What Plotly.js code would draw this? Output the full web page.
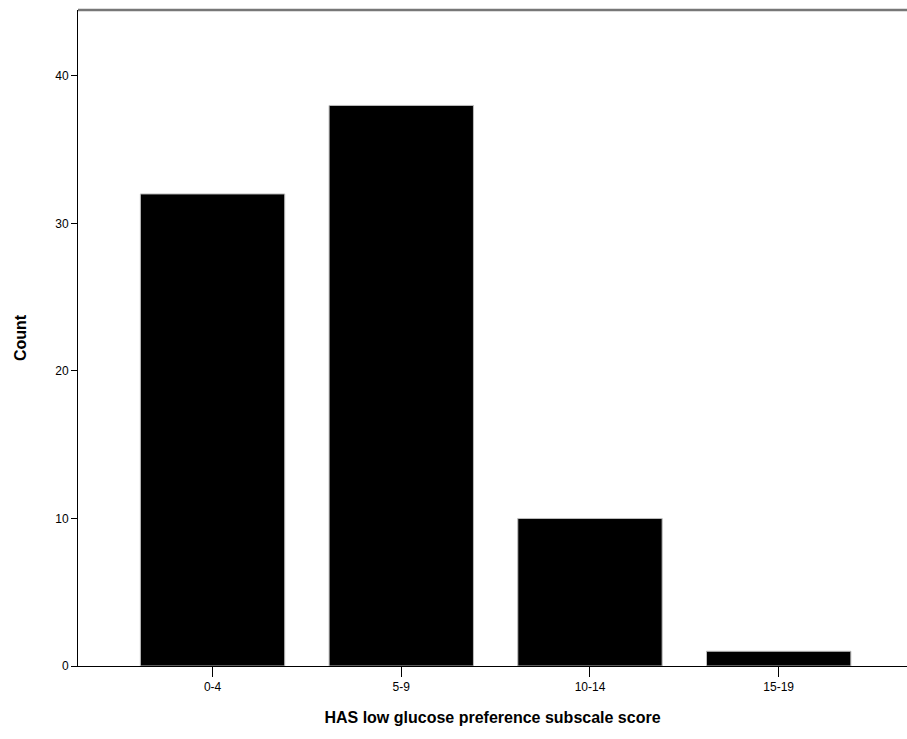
<!DOCTYPE html>
<html><head><meta charset="utf-8">
<script src="https://cdn.plot.ly/plotly-3.0.1.min.js"></script>
<style>html,body{margin:0;padding:0;background:#fff}#chart{width:907px;height:739px}</style>
</head><body><div id="chart"></div>
<script>
const categories = ["0-4", "5-9", "10-14", "15-19"];
const counts = [32, 38, 10, 1];
const yTicks = [0, 10, 20, 30, 40];

const trace = {
  type: 'bar', x: categories, y: counts,
  marker: {color: '#000000', line: {color: '#bdbdbd', width: 1}},
  hoverinfo: 'none'
};
const layout = {
  width: 907, height: 739,
  margin: {l: 78, r: 0, t: 10, b: 73},
  paper_bgcolor: '#fff', plot_bgcolor: '#fff',
  bargap: 0.235,
  showlegend: false,
  font: {family: 'Liberation Sans, Arial, sans-serif', color: '#000', size: 12},
  xaxis: {
    type: 'category', range: [-0.713, 3.68],
    showline: true, linecolor: '#000', linewidth: 1,
    ticks: 'outside', ticklen: 10, tickcolor: '#000', tickwidth: 1,
    showgrid: false, zeroline: false,
    tickfont: {size: 12, family: 'Liberation Sans, Arial, sans-serif'},
    title: {text: 'HAS low glucose preference subscale score', standoff: 18,
            font: {size: 16, family: 'Liberation Sans, Arial, sans-serif', weight: 'bold'}}
  },
  yaxis: {
    range: [0, 44.47], tickvals: yTicks,
    showline: true, linecolor: '#000', linewidth: 1,
    ticks: 'outside', ticklen: 6, tickcolor: '#000', tickwidth: 1,
    showgrid: false, zeroline: false,
    tickfont: {size: 12, family: 'Liberation Sans, Arial, sans-serif'},
    title: {text: 'Count', standoff: 24,
            font: {size: 16, family: 'Liberation Sans, Arial, sans-serif', weight: 'bold'}}
  },
  shapes: [{type: 'line', xref: 'paper', yref: 'paper', x0: 0, x1: 1, y0: 1, y1: 1,
            layer: 'above', line: {color: '#777', width: 2.5}}]
};
Plotly.newPlot('chart', [trace], layout, {displayModeBar: false, staticPlot: true});
</script></body></html>
